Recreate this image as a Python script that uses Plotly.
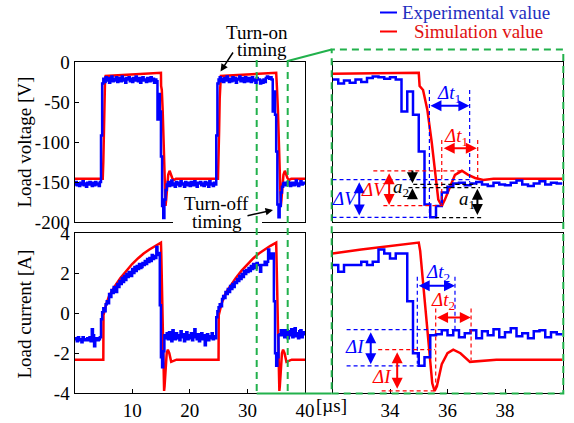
import numpy as np
import plotly.graph_objects as go

# ---------------- measured / simulated waveforms ----------------
DT = 0.2  # oscilloscope sample interval [us]

# Experimental load voltage [V], one sample every DT from t = 0 (10 samples per row = 2 us)
BLUE_V = [
    -153, -150, -154, -152, -155, -151, -153, -149, -154, -152,
    -156, -151, -153, -150, -152, -155, -151, -154, -150, -153,
    -152, -155, -150, -92, -27, -21, -25, -19, -23, -20,
    -26, -22, -18, -24, -21, -23, -19, -25, -22, -20,
    -24, -18, -23, -21, -26, -20, -22, -19, -24, -21,
    -25, -20, -23, -18, -22, -24, -20, -26, -21, -19,
    -23, -22, -25, -20, -21, -24, -19, -23, -21, -26,
    -22, -24, -72, -40, -62, -118, -180, -195, -172, -160,
    -153, -150, -155, -151, -148, -154, -152, -156, -150, -153,
    -151, -155, -149, -153, -152, -156, -150, -154, -151, -153,
    -155, -150, -152, -154, -149, -153, -156, -151, -152, -150,
    -154, -152, -155, -150, -153, -151, -156, -149, -153, -152,
    -155, -151, -153, -92, -27, -22, -19, -24, -21, -25,
    -20, -23, -18, -22, -25, -21, -24, -19, -23, -20,
    -26, -21, -22, -18, -24, -20, -23, -25, -19, -22,
    -24, -20, -21, -25, -19, -23, -22, -26, -20, -22,
    -22, -27, -23, -26, -22, -25, -20, -18, -19, -21,
    -19, -22, -62, -37, -66, -112, -178, -194, -180, -163,
    -156, -152, -151, -154, -152, -150, -153, -155, -151, -153,
    -154, -151, -148, -153, -155, -152, -149, -153, -151, -152,
    -152,
]

# Experimental load current [A], same sampling
BLUE_I = [
    -1.30, -1.25, -1.40, -1.20, -1.35, -1.30, -1.45, -1.20, -1.30, -1.35,
    -1.30, -1.25, -1.35, -1.20, -1.40, -0.80, -1.10, -1.65, -1.30, -1.25,
    -1.35, -1.30, -1.20, -0.30, 0.05, 0.25, 0.10, 0.45, 0.60, 0.50,
    0.95, 0.80, 1.15, 1.00, 1.30, 1.20, 1.05, 1.45, 1.30, 1.60,
    1.45, 1.75, 1.55, 1.85, 1.65, 1.95, 1.80, 2.05, 1.90, 1.85,
    2.20, 2.00, 2.30, 2.10, 2.35, 2.20, 2.45, 2.25, 2.30, 2.50,
    2.40, 2.60, 2.45, 2.70, 2.55, 2.75, 2.60, 2.90, 2.70, 2.85,
    2.75, 3.30, 2.90, 3.00, 0.40, -2.20, -2.70, -1.90, -1.10, -1.25,
    -1.00, -1.30, -0.95, -1.20, -1.40, -0.85, -1.15, -1.30, -1.00, -1.25,
    -1.10, -1.35, -0.90, -1.20, -1.05, -1.40, -1.15, -0.95, -1.30, -1.10,
    -1.25, -1.00, -1.35, -1.10, -0.80, -1.20, -1.30, -1.05, -1.40, -1.15,
    -1.00, -1.30, -1.10, -1.60, -1.20, -1.05, -1.35, -1.15, -1.25, -1.00,
    -1.30, -1.15, -1.25, -0.20, 0.10, 0.30, 0.45, 0.35, 0.70, 0.85,
    0.75, 1.05, 0.95, 1.20, 1.05, 1.35, 1.20, 1.45, 1.30, 1.55,
    1.50, 1.70, 1.60, 1.85, 1.70, 1.95, 1.80, 2.10, 1.95, 2.15,
    2.05, 2.25, 2.10, 2.35, 2.20, 2.45, 2.30, 2.25, 2.50, 2.40,
    2.40, 2.07, 2.40, 2.40, 2.40, 2.57, 2.40, 2.57, 3.18, 2.98,
    2.73, 2.98, 2.98, 0.60, -2.00, -2.63, -2.20, -1.10, -1.05, -0.85,
    -1.10, -0.85, -1.20, -1.00, -0.85, -1.25, -0.90, -1.10, -0.80, -1.20,
    -0.95, -0.75, -1.15, -1.00, -1.25, -0.90, -0.85, -1.20, -0.95, -1.05,
    -1.05,
]

# Simulated load voltage [V]
RED_V_T = [0.0, 4.9, 5.0, 5.1, 5.2, 5.3, 5.4,
           15.0, 15.03, 15.15, 15.3, 15.45, 15.57, 15.68, 15.8, 15.91,
           16.09, 16.26, 16.5, 16.72, 16.96, 17.24, 17.6,
           24.9, 25.0, 25.1, 25.2, 25.3, 25.4,
           35.0, 35.03, 35.15, 35.3, 35.45, 35.57, 35.68, 35.8, 35.91,
           36.09, 36.26, 36.5, 36.72, 36.96, 37.24, 37.6, 40.0]
RED_V = [-146, -146, -125, -85, -45, -22, -17.5,
         -13.5, -30, -35, -60, -100, -139, -172, -180, -172,
         -156, -141, -136, -141, -145, -147.5, -146,
         -146, -125, -85, -45, -22, -17.5,
         -13.5, -30, -35, -60, -100, -139, -172, -180, -172,
         -156, -141, -136, -141, -145, -147.5, -146, -146]

# Simulated load current [A]
RED_I_T = [0.0, 5.0, 5.03, 5.5, 6.0, 6.5, 7.0, 8.0, 9.0, 10.0, 11.0, 12.0, 13.0, 14.0,
           15.0, 15.05, 15.16, 15.28, 15.39, 15.47, 15.55, 15.63, 15.8, 16.0, 16.2,
           16.45, 16.78, 17.13, 17.7,
           25.0, 25.03, 25.5, 26.0, 26.5, 27.0, 28.0, 29.0, 30.0, 31.0, 32.0, 33.0, 34.0,
           35.0, 35.05, 35.16, 35.28, 35.39, 35.47, 35.55, 35.63, 35.8, 36.0, 36.2,
           36.45, 36.78, 37.13, 37.7, 40.0]
RED_I = [-2.32, -2.32, -0.1, 0.45, 0.85, 1.12, 1.35, 1.76, 2.12, 2.45, 2.73, 2.98, 3.18, 3.36,
         3.52, 3.1, 1.35, -0.35, -2.35, -3.5, -3.88, -3.65, -2.55, -2.0, -1.82,
         -2.0, -2.43, -2.38, -2.32,
         -2.32, -0.1, 0.45, 0.85, 1.12, 1.35, 1.76, 2.12, 2.45, 2.73, 2.98, 3.18, 3.36,
         3.52, 3.1, 1.35, -0.35, -2.35, -3.5, -3.88, -3.65, -2.55, -2.0, -1.82,
         -2.0, -2.43, -2.38, -2.32, -2.32]

V_TICKS = [0, -50, -100, -150, -200]
I_TICKS = [4, 2, 0, -2, -4]
T_TICKS_FULL = [10, 20, 30, 40]
T_TICKS_ZOOM = [34, 36, 38]

t_exp = np.round(np.arange(len(BLUE_V)) * DT, 2)

# ---------------- styling helpers ----------------
W, H = 574, 423
BLUE = "#0000ff"
RED = "#ff0000"
GREEN = "#22b14c"
FONT = "Liberation Serif, Times New Roman, serif"


def px(x):
    return x / W


def py(y):
    return 1 - y / H


fig = go.Figure()

panels = [
    ("x", "y", BLUE_V, RED_V_T, RED_V),
    ("x2", "y2", BLUE_I, RED_I_T, RED_I),
    ("x3", "y3", BLUE_V, RED_V_T, RED_V),
    ("x4", "y4", BLUE_I, RED_I_T, RED_I),
]
for xa, ya, bv, rt, rv in panels:
    # simulation underneath, measurement drawn over it
    fig.add_trace(go.Scatter(x=rt, y=rv, mode="lines", xaxis=xa, yaxis=ya,
                             line=dict(color=RED, width=2.5),
                             name="Simulation value", showlegend=False))
    fig.add_trace(go.Scatter(x=t_exp, y=bv, mode="lines", xaxis=xa, yaxis=ya,
                             line=dict(color=BLUE, width=2.5, shape="hv"),
                             name="Experimental value", showlegend=False))

tickfont = dict(family=FONT, size=19, color="black")
base = dict(showline=True, linecolor="black", linewidth=1, mirror=True,
            showgrid=False, zeroline=False, tickfont=tickfont, automargin=False,
            ticks="inside", ticklen=4, tickcolor="black")

L_DOM = [px(74.5), px(305)]
R_DOM = [px(332.5), px(562.5)]
T_DOM = [py(222), py(62)]
B_DOM = [py(393.3), py(233)]

fig.update_layout(
    xaxis=dict(base, domain=L_DOM, anchor="y", range=[0, 40], ticks="", showticklabels=False),
    yaxis=dict(base, domain=T_DOM, anchor="x", range=[-200, 0],
               tickvals=V_TICKS, ticktext=[str(v) for v in V_TICKS]),
    xaxis2=dict(base, domain=L_DOM, anchor="y2", range=[0, 40],
                tickvals=T_TICKS_FULL, ticktext=[str(v) for v in T_TICKS_FULL]),
    yaxis2=dict(base, domain=B_DOM, anchor="x2", range=[-4, 4],
                tickvals=I_TICKS, ticktext=[str(v) for v in I_TICKS]),
    xaxis3=dict(base, domain=R_DOM, anchor="y3", range=[32, 40], ticks="", showticklabels=False),
    yaxis3=dict(base, domain=T_DOM, anchor="x3", range=[-200, 0], ticks="", showticklabels=False),
    xaxis4=dict(base, domain=R_DOM, anchor="y4", range=[32, 40],
                tickvals=T_TICKS_ZOOM, ticktext=[str(v) for v in T_TICKS_ZOOM]),
    yaxis4=dict(base, domain=B_DOM, anchor="x4", range=[-4, 4], ticks="", showticklabels=False),
)

shapes = []

# white patch behind the "Turn-off timing" label
shapes.append(dict(type="rect", xref="paper", yref="paper", layer="above",
                   x0=px(173), x1=px(262), y0=py(229), y1=py(214),
                   fillcolor="white", line=dict(width=0)))

# zoom window markers and frame
GDASH = "7px,5px"
for gx in (256.7, 287.7):
    shapes.append(dict(type="line", xref="paper", yref="paper", layer="above",
                       x0=px(gx), x1=px(gx), y0=py(60), y1=py(393.5),
                       line=dict(color=GREEN, width=2, dash=GDASH)))
shapes.append(dict(type="line", xref="paper", yref="paper", layer="above",
                   x0=px(287.7), y0=py(61), x1=px(331.7), y1=py(49.5),
                   line=dict(color=GREEN, width=2)))
shapes.append(dict(type="line", xref="paper", yref="paper", layer="above",
                   x0=px(256.7), y0=py(393.5), x1=px(331.7), y1=py(393.5),
                   line=dict(color=GREEN, width=2)))
shapes.append(dict(type="rect", xref="paper", yref="paper", layer="above",
                   x0=px(331.7), x1=px(563.3), y0=py(393.5), y1=py(49.5),
                   line=dict(color=GREEN, width=2, dash=GDASH)))

# legend samples
shapes.append(dict(type="line", xref="paper", yref="paper", x0=px(380), x1=px(397),
                   y0=py(12.5), y1=py(12.5), line=dict(color=BLUE, width=2)))
shapes.append(dict(type="line", xref="paper", yref="paper", x0=px(380), x1=px(397),
                   y0=py(31.5), y1=py(31.5), line=dict(color=RED, width=2)))


def guide(x0, y0, x1, y1, color, xr, yr):
    shapes.append(dict(type="line", xref=xr, yref=yr, layer="above",
                       x0=x0, y0=y0, x1=x1, y1=y1,
                       line=dict(color=color, width=1.2, dash="4px,3px")))


# voltage zoom guides
guide(32.0, -147, 36.78, -147, BLUE, "x3", "y3")
guide(32.0, -194.2, 35.51, -194.2, BLUE, "x3", "y3")
guide(35.37, -35, 35.37, -194, BLUE, "x3", "y3")
guide(36.77, -35, 36.77, -150, BLUE, "x3", "y3")
guide(33.42, -136, 36.49, -136, RED, "x3", "y3")
guide(33.77, -179.6, 35.85, -179.6, RED, "x3", "y3")
guide(35.8, -97.5, 35.8, -179.6, RED, "x3", "y3")
guide(37.05, -97.5, 37.05, -148, RED, "x3", "y3")
guide(34.81, -153, 37.02, -153, "black", "x3", "y3")
guide(34.64, -157.1, 37.13, -157.1, "black", "x3", "y3")
guide(35.57, -194.6, 37.25, -194.6, "black", "x3", "y3")

# current zoom guides
guide(32.49, -0.82, 36.32, -0.82, BLUE, "x4", "y4")
guide(32.49, -2.63, 35.04, -2.63, BLUE, "x4", "y4")
guide(34.95, 1.82, 34.95, -2.52, BLUE, "x4", "y4")
guide(36.26, 1.82, 36.26, -0.93, BLUE, "x4", "y4")
guide(33.59, -1.82, 35.57, -1.82, RED, "x4", "y4")
guide(33.71, -3.88, 35.56, -3.88, RED, "x4", "y4")
guide(35.59, 0.23, 35.59, -3.85, RED, "x4", "y4")
guide(36.82, 0.23, 36.82, -2.35, RED, "x4", "y4")

annotations = []


def arrow(x0, y0, x1, y1, color, xr, yr, both=True):
    annotations.append(dict(x=x1, y=y1, ax=x0, ay=y0, xref=xr, yref=yr, axref=xr, ayref=yr,
                            text="", showarrow=True, arrowhead=2, arrowsize=1.1,
                            arrowwidth=2, arrowcolor=color, standoff=0, startstandoff=0,
                            arrowside="end+start" if both else "end",
                            font=dict(size=1), borderpad=0))


def label(x, y, text, color, xr, yr, size=19):
    annotations.append(dict(x=x, y=y, xref=xr, yref=yr, text=text, showarrow=False,
                            xanchor="center", yanchor="middle",
                            font=dict(family=FONT, size=size, color=color)))


arrow(35.39, -54.6, 36.76, -54.6, BLUE, "x3", "y3")
arrow(35.85, -107.9, 37.02, -107.9, RED, "x3", "y3")
arrow(32.93, -149.6, 32.93, -192, BLUE, "x3", "y3")
arrow(33.97, -138.3, 33.97, -178.75, RED, "x3", "y3")
arrow(34.78, -135, 34.78, -151.6, "black", "x3", "y3", both=False)
arrow(34.78, -170.4, 34.78, -157.9, "black", "x3", "y3", both=False)
arrow(37.04, -157.9, 37.04, -191.25, "black", "x3", "y3")

arrow(34.98, 1.37, 36.26, 1.37, BLUE, "x4", "y4")
arrow(35.62, -0.22, 36.81, -0.22, RED, "x4", "y4")
arrow(33.33, -0.93, 33.33, -2.55, BLUE, "x4", "y4")
arrow(34.25, -1.93, 34.25, -3.77, RED, "x4", "y4")

label(36.05, -40, "<i>Δt</i><sub>1</sub>", BLUE, "x3", "y3")
label(36.3, -93.75, "<i>Δt</i><sub>1</sub>", RED, "x3", "y3")
label(32.43, -171, "<i>ΔV</i>", BLUE, "x3", "y3")
label(33.45, -159, "<i>ΔV</i>", RED, "x3", "y3")
label(34.38, -157.5, "<i>a</i><sub>2</sub>", "black", "x3", "y3")
label(36.68, -172.5, "<i>a</i><sub>1</sub>", "black", "x3", "y3")

label(35.67, 2.0, "<i>Δt</i><sub>2</sub>", BLUE, "x4", "y4")
label(35.84, 0.6, "<i>Δt</i><sub>2</sub>", RED, "x4", "y4")
label(32.78, -1.65, "<i>ΔI</i>", BLUE, "x4", "y4")
label(33.72, -3.15, "<i>ΔI</i>", RED, "x4", "y4")


def paper_text(x, y, text, color="black", size=19, angle=0, xanchor="center"):
    annotations.append(dict(x=px(x), y=py(y), xref="paper", yref="paper", text=text,
                            showarrow=False, xanchor=xanchor, yanchor="middle",
                            textangle=angle, font=dict(family=FONT, size=size, color=color)))


# axis titles and unit
paper_text(23.5, 142, "Load voltage [V]", angle=-90)
paper_text(23.5, 314, "Load current [A]", angle=-90)
paper_text(331, 405, "[µs]")

# legend text
paper_text(400, 12.5, "Experimental value", color="#1f2fbf", xanchor="left")
paper_text(411.5, 31.5, "Simulation value", color="#e01010", xanchor="left")

# switching timing callouts
paper_text(257, 32, "Turn-on")
paper_text(262, 49, "timing")
paper_text(216.7, 203.5, "Turn-off")
paper_text(217, 221, "timing")
annotations.append(dict(x=px(220.5), y=py(71.5), xref="paper", yref="paper", text="",
                        showarrow=True, ax=13.5, ay=-20.5, arrowhead=2, arrowsize=1,
                        arrowwidth=1.5, arrowcolor="black", standoff=0, font=dict(size=1)))
annotations.append(dict(x=px(273), y=py(210), xref="paper", yref="paper", text="",
                        showarrow=True, ax=-27, ay=6, arrowhead=2, arrowsize=1,
                        arrowwidth=1.5, arrowcolor="black", standoff=0, font=dict(size=1)))

fig.update_layout(
    width=W, height=H, autosize=False,
    margin=dict(l=0, r=0, t=0, b=0),
    paper_bgcolor="white", plot_bgcolor="white",
    showlegend=False,
    shapes=shapes, annotations=annotations,
    font=dict(family=FONT, size=19, color="black"),
)

fig.write_html("out.html")
